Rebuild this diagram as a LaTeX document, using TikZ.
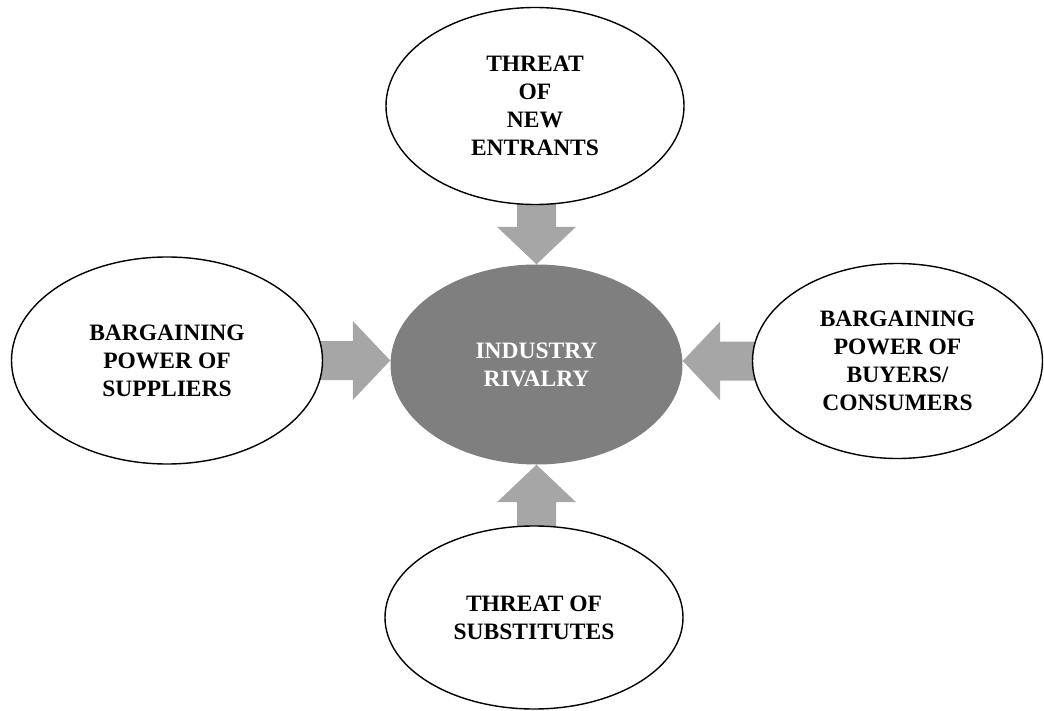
\documentclass[tikz,border=0pt]{standalone}
\usepackage{fontspec}
\setmainfont{Liberation Serif}
\usetikzlibrary{shapes.geometric,calc}
\pgfdeclarelayer{back}
\pgfsetlayers{back,main}
\definecolor{hubgray}{RGB}{127,127,127}
\definecolor{arrowgray}{RGB}{166,166,166}
% broad block arrow from #1 with its point at #2
\newcommand\forcearrow[2]{%
  \path ($(#2)!37.5pt!(#1)$) coordinate (hb);
  \fill[arrowgray]
    ($(#1)!19.5pt!90:(#2)$) -- ($(hb)!19.5pt!90:(#2)$) --
    ($(hb)!39.5pt!90:(#2)$) -- (#2) --
    ($(hb)!39.5pt!-90:(#2)$) -- ($(hb)!19.5pt!-90:(#2)$) --
    ($(#1)!19.5pt!-90:(#2)$) -- cycle;}
\begin{document}
\begin{tikzpicture}[x=1pt,y=1pt,
  label font/.style={font=\bfseries\fontsize{23.5}{28}\selectfont},
  force/.style={ellipse, draw=black, line width=1.4pt, fill=white,
    inner sep=0pt, align=center, label font},
  hub/.style={ellipse, fill=hubgray, text=white, inner sep=0pt,
    align=center, label font}]
\useasboundingbox (0,0) rectangle (1044,-711);

% the five forces
\node[hub, minimum width=292pt, minimum height=200pt] (mid) at (536.5,-364.5)
  {INDUSTRY\\RIVALRY};
\node[force, minimum width=298pt, minimum height=197pt] (top) at (535,-106)
  {THREAT\\OF\\NEW\\ENTRANTS};
\node[force, minimum width=311pt, minimum height=207pt] (left) at (167,-360.5)
  {BARGAINING\\POWER OF\\SUPPLIERS};
\node[force, minimum width=290pt, minimum height=195pt] (right) at (897.5,-361)
  {BARGAINING\\POWER OF\\BUYERS/\\CONSUMERS};
\node[force, minimum width=298pt, minimum height=183pt] (bottom) at (534,-617.5)
  {THREAT OF\\SUBSTITUTES};

% arrow ends lined up with the hub
\coordinate (tA) at (top.center -| mid.north);
\coordinate (bA) at (bottom.center -| mid.south);
\coordinate (lT) at (left.center -| mid.west);
\coordinate (rT) at (right.center -| mid.east);

\begin{pgfonlayer}{back}
  \forcearrow{tA}{mid.north}
  \forcearrow{bA}{mid.south}
  \forcearrow{left.center}{lT}
  \forcearrow{right.center}{rT}
\end{pgfonlayer}
\end{tikzpicture}
\end{document}
